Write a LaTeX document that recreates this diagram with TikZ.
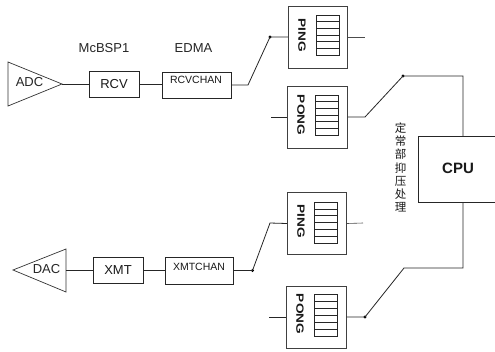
\documentclass[tikz,border=0pt]{standalone}
\usepackage{fontspec}
\setmainfont{Liberation Sans}
\newfontfamily\cjk{Noto Sans CJK SC}
\tikzset{
  x=1pt,y=-1pt,
  wire/.style={line width=0.8pt,black!85},
  thinwire/.style={line width=0.6pt,black!70},
  boxn/.style={draw=black!85,line width=0.75pt,rectangle,inner sep=0pt,text=black!90},
  bufbox/.style={draw=black!75,line width=0.7pt,rectangle,inner sep=0pt,minimum width=59.5pt,minimum height=62pt},
  rot/.style={rotate=-90,font=\bfseries\fontsize{10.5}{12}\selectfont,inner sep=0pt,text=black!90},
  lab/.style={inner sep=0pt,text=black!85,font=\fontsize{13}{15}\selectfont},
  chanlab/.style={inner sep=0pt,text=black!90,font=\fontsize{10.5}{12}\selectfont},
  dotend/.style={circle,fill=black,inner sep=0pt,minimum size=3.2pt},
  cell/.style={draw=black!85,line width=0.6pt},
  tri/.style={draw=black!80,line width=0.7pt},
}
\newcommand{\fifo}[3]{% left x, top y, height
  \draw[cell] (#1,#2) rectangle ++(23,#3);
  \foreach \i in {1,...,5} \draw[cell] (#1,{#2+\i*#3/6}) -- ++(23,0);
}
\newcommand{\wide}[1]{\scalebox{1.3}[1]{#1}}
\begin{document}
\begin{tikzpicture}
\useasboundingbox (0,0) rectangle (495,351);
\fill[white] (0,0) rectangle (495,351);
% ADC chain
\coordinate (adcout) at (62,84);
\draw[tri] (8,62) -- (adcout) -- (8,106) -- cycle;
\node[lab] (adc) at (29.5,82.5) {ADC};
\node[boxn,minimum width=50pt,minimum height=26pt,font=\fontsize{13}{15}\selectfont] (rcv) at (114,84) {RCV};
\node[boxn,minimum width=69pt,minimum height=26pt] (rcvc) at (196.5,85) {};
\node[chanlab] (rcvt) at (196,80) {RCVCHAN};
\node[lab] (mcbsp) at (104,48) {McBSP1};
\node[lab] (edma) at (193.5,48) {EDMA};
\draw[wire] (adcout) -- (rcv.west);
\draw[wire] (rcv.east) -- (rcv.east -| rcvc.west);
% DAC chain
\coordinate (dacin) at (66,270);
\draw[tri] (13,270) -- (66,249) -- (66,292) -- cycle;
\node[lab] (dac) at (46.5,269.5) {DAC};
\node[boxn,minimum width=50pt,minimum height=26pt,font=\fontsize{13}{15}\selectfont] (xmt) at (118,270) {XMT};
\node[boxn,minimum width=68pt,minimum height=27pt] (xmtc) at (199,270.5) {};
\node[chanlab] (xmtt) at (199,267) {XMTCHAN};
\draw[wire] (dacin) -- (xmt.west);
\draw[wire] (xmt.east) -- (xmt.east -| xmtc.west);
% Buffers
\node[bufbox] (ping1) at (318,37) {};
\node[rot] (ping1t) at (302,35) {\wide{PING}};
\fifo{316}{15}{40}
\node[bufbox] (pong1) at (317.5,117) {};
\node[rot] (pong1t) at (301,115) {\wide{PONG}};
\fifo{315}{95}{40}
\node[bufbox] (ping2) at (317,223.5) {};
\node[rot] (ping2t) at (301,221) {\wide{PING}};
\fifo{314}{202}{41}
\node[bufbox] (pong2) at (316.5,317) {};
\node[rot] (pong2t) at (300,314) {\wide{PONG}};
\fifo{314}{294}{42}
% CPU (runs off the right edge of the picture)
\coordinate (cpunw) at (418,136);
\coordinate (cpusw) at (418,202);
\coordinate (cpune) at (495,136);
\coordinate (cpuse) at (495,202);
\draw[boxn] (cpune) -- (cpunw) -- (cpusw) -- (cpuse);
\node[inner sep=0pt,font=\bfseries\fontsize{15}{17}\selectfont,text=black!90] (cput) at (458,168) {CPU};
\node[inner sep=0pt,align=center,font=\cjk\fontsize{11.5}{13.2}\selectfont,text=black!90] (vtext) at (400.5,167.5) {定\\常\\部\\抑\\压\\处\\理};
% Connectors
\coordinate (a1) at (248,85);
\coordinate (a2) at (270,37);
\node[dotend] (d1) at (270,37) {};
\draw[wire] (rcvc.east) -- (a1) -- (a2) -- (ping1.west);
\coordinate (ps1) at (365,37);
\draw[thinwire] (ping1.east) -- (ps1);
\coordinate (pl1) at (271,117);
\draw[wire] (pl1) -- (pong1.west);
\coordinate (b1) at (365,117);
\node[dotend] (d2) at (403,76) {};
\coordinate (b2) at (463,76);
\draw[wire] (pong1.east) -- (b1) -- (d2.center) -- (b2) -- (b2 |- cpunw);
\node[dotend] (d3) at (252.5,270.5) {};
\coordinate (c2) at (270,223);
\draw[wire] (xmtc.east) -- (d3.center) -- (c2) -- (ping2.west);
\coordinate (ps2) at (363,223);
\draw[thinwire] (ping2.east) -- (ps2);
\coordinate (pl2) at (269,317);
\draw[wire] (pl2) -- (pong2.west);
\node[dotend] (d4) at (365,317) {};
\coordinate (e2) at (404,268);
\coordinate (e3) at (463,268);
\draw[wire] (pong2.east) -- (d4.center) -- (e2) -- (e3) -- (e3 |- cpusw);
\end{tikzpicture}
\end{document}
